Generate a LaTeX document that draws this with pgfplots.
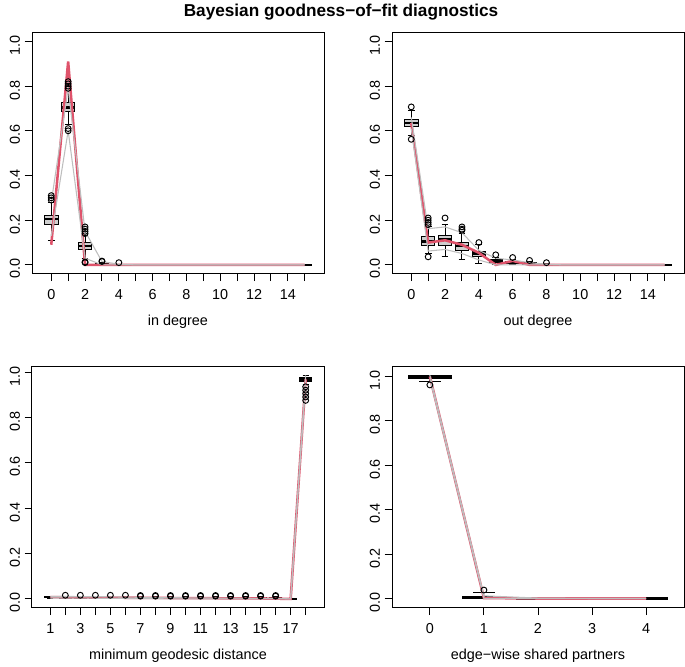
\documentclass[border=0pt]{standalone}
\usepackage{fontspec}
\setmainfont{Liberation Sans}
\usepackage{pgfplots}
\pgfplotsset{compat=1.18}
\usepgfplotslibrary{statistics}

\definecolor{obsred}{HTML}{DF536B}
\definecolor{qgray}{HTML}{BEBEBE}
\definecolor{boxfill}{HTML}{CFCFCF}

\newcommand{\fs}{\fontsize{10.8}{12}\selectfont}

% one prepared box: position, lower whisker, lower quartile, median, upper quartile, upper whisker
\newcommand{\bx}[6]{\addplot[draw=black, fill=boxfill, line width=0.75pt,
  boxplot/draw direction=y,
  boxplot/whisker extend=0.4,
  boxplot/every median/.style={line width=2pt},
  boxplot prepared={draw position=#1, lower whisker=#2, lower quartile=#3,
    median=#4, upper quartile=#5, upper whisker=#6}] coordinates {};}

\pgfplotsset{
  gof/.style={
    scale only axis, width=219pt, height=181pt, anchor=south west,
    axis line style={line width=0.75pt},
    tick align=outside, tick pos=left, major tick length=5.5pt,
    tick style={line width=0.75pt, black},
    ytick={0,0.2,0.4,0.6,0.8,1},
    yticklabels={0.0,0.2,0.4,0.6,0.8,1.0},
    yticklabel style={rotate=90, anchor=south, font=\fs, xshift=-3pt},
    xticklabel style={font=\fs, yshift=-3pt},
    xlabel style={font=\fs, at={(axis description cs:0.5,0)}, anchor=center, yshift=-35.6pt},
    /pgf/number format/assume math mode=true,
  },
  outl/.style={only marks, mark=o, mark size=2.2pt, line width=0.7pt, black},
  obs/.style={obsred, line width=1.9pt},
  qline/.style={qgray, line width=0.8pt},
}

\begin{document}
\begin{tikzpicture}
\path (0,0) rectangle (513.75pt,498pt);
\node[font=\bfseries\fontsize{12.9}{15}\selectfont] at (255.75pt,490pt) {Bayesian goodness−of−fit diagnostics};

% in degree
\begin{axis}[gof, at={(24pt,294pt)}, xmin=-1.14, xmax=16.14, ymin=-0.04, ymax=1.04,
  xtick={0,...,15}, xticklabels={0,,2,,4,,6,,8,,10,,12,,14,}, xlabel={in degree}]
\bx{0}{0.11}{0.18}{0.205}{0.222}{0.28}
\bx{1}{0.63}{0.685}{0.705}{0.725}{0.78}
\bx{2}{0.03}{0.068}{0.085}{0.10}{0.13}
\bx{3}{0}{0}{0.003}{0.006}{0.012}
\pgfplotsinvokeforeach{4,...,15}{\bx{#1}{0}{0}{0}{0}{0}}
\addplot[outl] coordinates {(0,0.29)(0,0.30)(0,0.31)(1,0.79)(1,0.80)(1,0.81)(1,0.82)(1,0.60)(1,0.61)
  (2,0.14)(2,0.15)(2,0.16)(2,0.17)(2,0.01)(2,0.013)(3,0.015)(3,0.017)(4,0.01)};
\addplot[obs] coordinates {(0,0.09)(1,0.91)(2,0)(3,0)(4,0)(5,0)(6,0)(7,0)(8,0)(9,0)(10,0)(11,0)(12,0)(13,0)(14,0)(15,0)};
\addplot[qline] coordinates {(0,0.28)(1,0.79)(2,0.15)(3,0.015)(4,0.003)(5,0)(6,0)(7,0)(8,0)(9,0)(10,0)(11,0)(12,0)(13,0)(14,0)(15,0)};
\addplot[qline] coordinates {(0,0.13)(1,0.60)(2,0.03)(3,0)(4,0)(5,0)(6,0)(7,0)(8,0)(9,0)(10,0)(11,0)(12,0)(13,0)(14,0)(15,0)};
\end{axis}

% out degree
\begin{axis}[gof, at={(294pt,294pt)}, xmin=-1.14, xmax=16.14, ymin=-0.04, ymax=1.04,
  xtick={0,...,15}, xticklabels={0,,2,,4,,6,,8,,10,,12,,14,}, xlabel={out degree}]
\bx{0}{0.58}{0.62}{0.635}{0.652}{0.69}
\bx{1}{0.05}{0.087}{0.105}{0.125}{0.17}
\bx{2}{0.036}{0.087}{0.115}{0.132}{0.18}
\bx{3}{0.025}{0.065}{0.085}{0.10}{0.14}
\bx{4}{0.005}{0.036}{0.05}{0.062}{0.09}
\bx{5}{0}{0.01}{0.015}{0.025}{0.035}
\bx{6}{0}{0.005}{0.01}{0.015}{0.025}
\bx{7}{0}{0}{0.005}{0.01}{0.015}
\bx{8}{0}{0}{0}{0}{0.005}
\pgfplotsinvokeforeach{9,...,15}{\bx{#1}{0}{0}{0}{0}{0}}
\addplot[outl] coordinates {(0,0.707)(0,0.562)(1,0.18)(1,0.19)(1,0.20)(1,0.21)(1,0.036)(2,0.21)
  (3,0.155)(3,0.16)(3,0.17)(4,0.10)(5,0.045)(6,0.033)(7,0.02)(8,0.01)};
\addplot[obs] coordinates {(0,0.635)(1,0.10)(2,0.11)(3,0.09)(4,0.054)(5,0)(6,0.018)(7,0)(8,0)(9,0)(10,0)(11,0)(12,0)(13,0)(14,0)(15,0)};
\addplot[qline] coordinates {(0,0.66)(1,0.162)(2,0.17)(3,0.144)(4,0.065)(5,0.03)(6,0.022)(7,0.01)(8,0.003)(9,0)(10,0)(11,0)(12,0)(13,0)(14,0)(15,0)};
\addplot[qline] coordinates {(0,0.61)(1,0.062)(2,0.069)(3,0.051)(4,0.022)(5,0)(6,0)(7,0)(8,0)(9,0)(10,0)(11,0)(12,0)(13,0)(14,0)(15,0)};
\end{axis}

% minimum geodesic distance
\begin{axis}[gof, at={(24pt,43.5pt)}, xmin=-0.22, xmax=19.22, ymin=-0.0394, ymax=1.0244,
  xtick={1,...,18}, xticklabels={1,,3,,5,,7,,9,,11,,13,,15,,17,}, xlabel={minimum geodesic distance}]
\bx{1}{0.002}{0.006}{0.008}{0.010}{0.012}
\pgfplotsinvokeforeach{2,...,16}{\bx{#1}{0}{0.002}{0.004}{0.006}{0.01}}
\bx{17}{0}{0}{0}{0.001}{0.003}
\bx{18}{0.945}{0.957}{0.968}{0.975}{0.985}
\addplot[outl] coordinates {(2,0.016)(3,0.016)(4,0.016)(5,0.016)(6,0.016)
  (7,0.012)(7,0.015)(8,0.012)(8,0.015)(9,0.012)(9,0.015)(10,0.012)(10,0.015)(11,0.012)(11,0.015)
  (12,0.012)(12,0.015)(13,0.012)(13,0.015)(14,0.012)(14,0.015)(15,0.012)(15,0.015)(16,0.012)(16,0.015)
  (18,0.935)(18,0.92)(18,0.905)(18,0.89)(18,0.875)};
\addplot[obs] coordinates {(1,0.008)(2,0.007)(3,0.007)(4,0.006)(5,0.006)(6,0.005)(7,0.005)(8,0.004)(9,0.004)
  (10,0.003)(11,0.003)(12,0.003)(13,0.002)(14,0.002)(15,0.002)(16,0.001)(17,0)(18,0.968)};
\addplot[qline] coordinates {(1,0.011)(2,0.011)(3,0.01)(4,0.01)(5,0.009)(6,0.008)(7,0.007)(8,0.006)(9,0.005)
  (10,0.005)(11,0.004)(12,0.004)(13,0.003)(14,0.003)(15,0.002)(16,0.002)(17,0)(18,0.985)};
\addplot[qline] coordinates {(1,0.004)(2,0.004)(3,0.003)(4,0.003)(5,0.002)(6,0.002)(7,0.001)(8,0.001)(9,0)
  (10,0)(11,0)(12,0)(13,0)(14,0)(15,0)(16,0)(17,0)(18,0.95)};
\end{axis}

% edge-wise shared partners
\begin{axis}[gof, at={(294pt,43.5pt)}, xmin=-0.7, xmax=4.7, ymin=-0.042, ymax=1.045,
  xtick={0,...,4}, xlabel={edge−wise shared partners}]
\bx{0}{0.977}{0.992}{1.0}{1.003}{1.006}
\bx{1}{0}{0}{0.002}{0.008}{0.026}
\bx{2}{0}{0}{0}{0}{0}
\bx{3}{0}{0}{0}{0}{0}
\bx{4}{0}{0}{0}{0}{0}
\addplot[outl] coordinates {(0,0.962)(1,0.038)};
\addplot[obs] coordinates {(0,1.0)(1,0.002)(2,0)(3,0)(4,0)};
\addplot[qline] coordinates {(0,1.006)(1,0.012)(2,0.002)(3,0)(4,0)};
\addplot[qline] coordinates {(0,0.99)(1,0)(2,0)(3,0)(4,0)};
\end{axis}
\end{tikzpicture}
\end{document}
